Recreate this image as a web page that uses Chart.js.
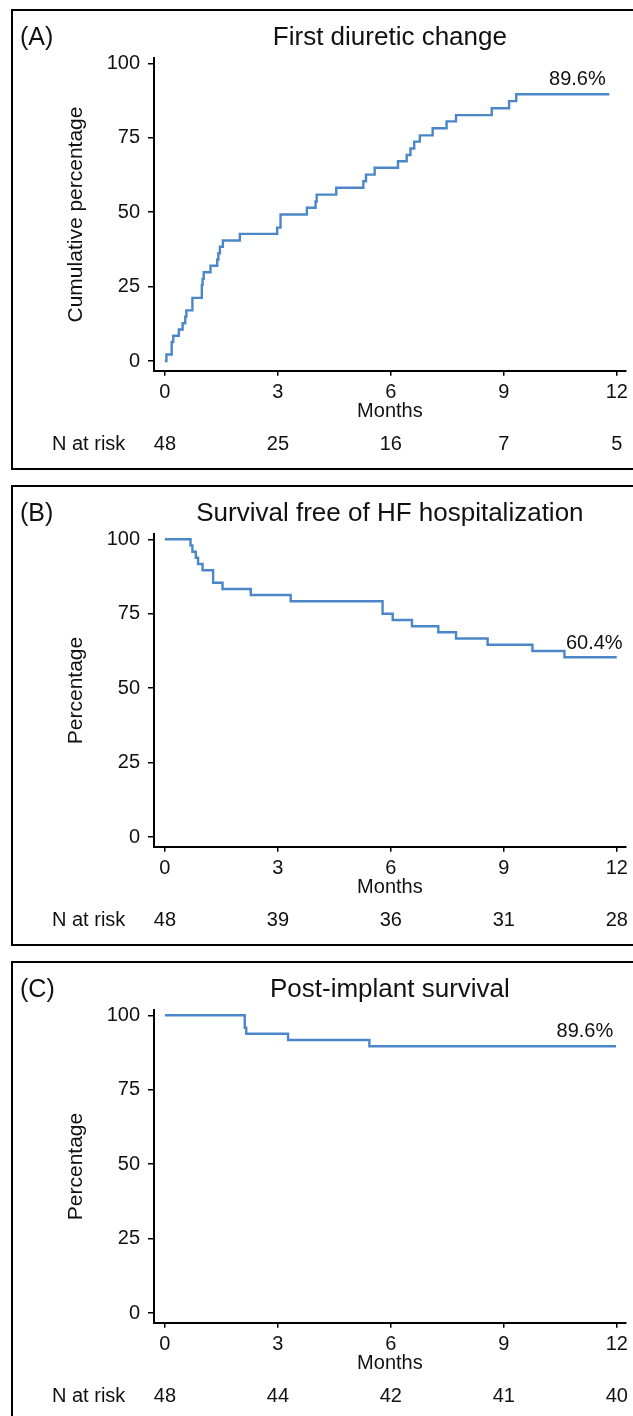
<!DOCTYPE html>
<html>
<head>
<meta charset="utf-8">
<script src="https://cdn.jsdelivr.net/npm/chart.js@4.4.1/dist/chart.umd.min.js"></script>
<style>
  html, body { margin: 0; padding: 0; background: #fff; width: 633px; height: 1416px; overflow: hidden; }
  .panel { position: absolute; left: 11px; width: 640px; height: 457px; border: 2px solid #000; }
  .panel canvas { position: absolute; left: 0; top: 0; }
</style>
</head>
<body>
<div class="panel" style="top:9px"><canvas id="cA" width="620" height="457"></canvas></div>
<div class="panel" style="top:485px"><canvas id="cB" width="620" height="457"></canvas></div>
<div class="panel" style="top:961px"><canvas id="cC" width="620" height="457"></canvas></div>
<script>
// ---- data ----
const xTicks = [0, 3, 6, 9, 12];
const yTicks = [0, 25, 50, 75, 100];

const aMonths = [0, 0.04, 0.18, 0.22, 0.37, 0.47, 0.54, 0.57, 0.73, 0.98, 1.00, 1.03, 1.21, 1.39, 1.42, 1.46, 1.54, 1.99, 2.98, 3.07, 3.77, 4.00, 4.03, 4.55, 5.27, 5.34, 5.57, 6.19, 6.42, 6.52, 6.62, 6.77, 7.11, 7.48, 7.73, 8.68, 9.14, 9.33, 11.8];
const aValues = [0, 2.2, 6.4, 8.5, 10.6, 12.7, 14.9, 17.0, 21.2, 25.5, 27.6, 29.8, 32.0, 34.1, 36.2, 38.4, 40.5, 42.7, 44.8, 49.2, 51.5, 53.6, 55.9, 58.2, 60.4, 62.6, 64.9, 67.1, 69.2, 71.4, 73.7, 75.8, 78.2, 80.5, 82.6, 84.9, 87.3, 89.6, 89.6];
const aRisk = [48, 25, 16, 7, 5];

const bMonths = [0, 0.68, 0.73, 0.82, 0.88, 1.00, 1.28, 1.53, 2.28, 3.34, 5.78, 6.05, 6.56, 7.26, 7.73, 8.57, 9.76, 10.61, 12.0];
const bValues = [100, 97.9, 95.8, 93.8, 91.7, 89.6, 85.4, 83.3, 81.3, 79.2, 75.0, 72.9, 70.8, 68.8, 66.7, 64.6, 62.5, 60.4, 60.4];
const bRisk = [48, 39, 36, 31, 28];

const cMonths = [0, 2.12, 2.16, 3.27, 5.43, 11.98];
const cValues = [100, 95.8, 93.8, 91.7, 89.6, 89.6];
const cRisk = [48, 44, 42, 41, 40];

const FONT = '"Liberation Sans", Arial, Helvetica, sans-serif';
const INK = '#111';
const LINE = '#4a86c8';

const extras = {
  id: 'extras',
  afterDraw(chart, args, o) {
    const ctx = chart.ctx, xs = chart.scales.x, ys = chart.scales.y, ca = chart.chartArea;
    ctx.save();
    ctx.fillStyle = INK;
    ctx.textBaseline = 'middle';
    ctx.textAlign = 'left';
    ctx.font = '25px ' + FONT;
    ctx.fillText(o.tag, 7, 27);
    ctx.textAlign = 'center';
    ctx.font = '26px ' + FONT;
    ctx.fillText(o.title, (ca.left + ca.right) / 2, 27);
    ctx.font = '20px ' + FONT;
    ctx.textAlign = 'left';
    ctx.fillText('N at risk', 39, 433);
    ctx.textAlign = 'center';
    xTicks.forEach((t, i) => ctx.fillText(String(o.risk[i]), xs.getPixelForValue(t), 433));
    ctx.textAlign = 'left';
    ctx.fillText(o.endLabel, xs.getPixelForValue(o.endX), ys.getPixelForValue(o.endY));
    ctx.restore();
  }
};

function makeChart(id, months, values, risk, tag, title, yTitle, endLabel, endX, endY) {
  const pts = months.map((m, i) => ({ x: m, y: values[i] }));
  return new Chart(document.getElementById(id), {
    type: 'line',
    data: { datasets: [{ data: pts, borderColor: LINE, borderWidth: 2.4, pointRadius: 0, stepped: 'before', fill: false, tension: 0 }] },
    options: {
      responsive: false,
      animation: false,
      devicePixelRatio: 1,
      layout: { padding: { top: 47.3, left: 0, right: 5, bottom: 0 } },
      plugins: {
        legend: { display: false },
        tooltip: { enabled: false },
        title: { display: false },
        extras: { tag, title, risk, endLabel, endX, endY }
      },
      scales: {
        x: {
          type: 'linear', min: -0.29, max: 12.24,
          afterBuildTicks: s => { s.ticks = xTicks.map(v => ({ value: v })); },
          afterFit: s => { s.height = 97.3; },
          ticks: { color: INK, font: { family: FONT, size: 20 }, padding: 5, autoSkip: false, maxRotation: 0, callback: v => String(v) },
          grid: { display: true, drawOnChartArea: false, drawTicks: true, tickLength: 5, color: '#000', lineWidth: 1.5 },
          border: { display: true, color: '#000', width: 2 },
          title: { display: true, text: 'Months', color: INK, font: { family: FONT, size: 20 }, padding: { top: 0, bottom: 45 } }
        },
        y: {
          type: 'linear', min: -3.26, max: 101.68,
          afterBuildTicks: s => { s.ticks = yTicks.map(v => ({ value: v })); },
          afterFit: s => { s.width = 141; },
          ticks: { color: INK, font: { family: FONT, size: 20 }, padding: 8, autoSkip: false, callback: v => String(v) },
          grid: { display: true, drawOnChartArea: false, drawTicks: true, tickLength: 6, color: '#000', lineWidth: 1.5 },
          border: { display: true, color: '#000', width: 2 },
          title: { display: true, text: yTitle, color: INK, font: { family: FONT, size: 21 }, padding: { top: 51, bottom: 0 } }
        }
      }
    },
    plugins: [extras]
  });
}

makeChart('cA', aMonths, aValues, aRisk, '(A)', 'First diuretic change', 'Cumulative percentage', '89.6%', 10.2, 94.4);
makeChart('cB', bMonths, bValues, bRisk, '(B)', 'Survival free of HF hospitalization', 'Percentage', '60.4%', 10.65, 65.1);
makeChart('cC', cMonths, cValues, cRisk, '(C)', 'Post-implant survival', 'Percentage', '89.6%', 10.4, 94.5);
</script>
</body>
</html>
